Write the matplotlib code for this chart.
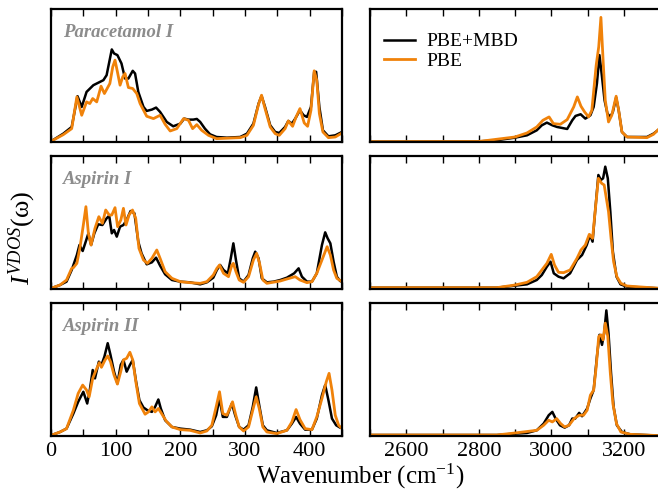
import matplotlib
matplotlib.use("Agg")
import matplotlib.pyplot as plt
from matplotlib.ticker import MultipleLocator, FixedLocator

plt.rcParams['font.family'] = ['Liberation Serif', 'DejaVu Serif']
plt.rcParams['mathtext.fontset'] = 'custom'
plt.rcParams['mathtext.rm'] = 'Liberation Serif'
plt.rcParams['mathtext.it'] = 'Liberation Serif:italic'

ORANGE = '#f0820a'
labels = ['Paracetamol I', 'Aspirin I', 'Aspirin II']
series_names = ['PBE+MBD', 'PBE']

# ---------- Paracetamol I, low-frequency ----------
para_lo_mbd_x = [0, 19, 32, 41, 47.5, 55, 65.5, 81, 86, 94, 97.5, 102.7, 109, 114.5, 119.7, 126.4, 130, 135, 143, 148, 156,
                 162.5, 168.7, 179, 189, 200, 206, 212.6, 220, 225.5, 230.7, 238, 246, 256, 272, 292.6, 303, 313, 321, 325.6,
                 331, 339, 346.7, 353, 362, 367, 372.5, 377.7, 385, 390.6, 395.8, 402, 407, 410, 415, 420.5, 429, 439.6, 450]
para_lo_mbd_y = [2, 25, 45, 137, 105, 150, 170, 185, 200, 277, 265, 260, 235, 190, 190, 213, 205, 150, 105, 93, 97,
                 103, 90, 60, 47, 55, 70, 67, 67, 69, 60, 40, 23, 15, 13, 15, 25, 55, 115, 138,
                 105, 50, 30, 27, 45, 63, 55, 70, 95, 80, 75, 105, 210, 210, 105, 35, 17, 20, 30]
para_lo_pbe_x = [0, 19, 32, 40, 47.5, 55, 60, 64.5, 70.7, 77.4, 82.6, 91, 95.5, 99, 102.7, 106.8, 111, 114.5, 119.7, 126.4,
                 132.6, 137.8, 148, 158.4, 168.7, 176.5, 184.3, 194.5, 205, 212.6, 219, 225.5, 233, 243.5, 256, 292.6, 303,
                 313, 321, 325.6, 331, 339, 346.7, 353, 362, 367, 373.6, 379, 385, 391.6, 396.8, 402, 407, 411, 415, 420.5,
                 429, 439.6, 450]
para_lo_pbe_y = [2, 22, 40, 135, 80, 120, 115, 130, 120, 167, 145, 175, 225, 245, 210, 170, 195, 205, 163, 160,
                 145, 115, 77, 70, 80, 53, 33, 40, 70, 65, 40, 52, 35, 20, 10, 13, 20,
                 50, 113, 140, 100, 45, 25, 20, 40, 63, 47, 75, 100, 57, 47, 95, 213, 185, 85, 30,
                 13, 15, 27]

# ---------- Paracetamol I, high-frequency ----------
para_hi_mbd_x = [2500, 2650, 2800, 2841, 2900, 2933, 2960, 2974, 2988, 3003, 3016, 3044, 3058, 3067, 3081, 3094, 3108,
                 3117, 3126, 3133, 3140, 3147, 3155, 3163, 3170, 3179, 3186, 3195, 3209, 3264, 3282, 3300]
para_hi_mbd_y = [1, 1.5, 2, 4, 13, 20, 35, 50, 58, 50, 45, 39, 65, 78, 83, 70, 80,
                 105, 175, 260, 195, 125, 85, 75, 90, 133, 95, 30, 15, 15, 25, 40]
para_hi_pbe_x = [2500, 2800, 2900, 2933, 2960, 2977, 2994, 3006, 3025, 3044, 3062, 3072, 3082, 3092, 3103, 3112, 3124,
                 3131, 3137, 3143, 3149, 3158, 3167, 3179, 3186, 3195, 3209, 3264, 3282, 3300]
para_hi_pbe_y = [1, 1.5, 15, 27, 45, 65, 75, 55, 53, 67, 105, 135, 107, 90, 75, 95, 230,
                 285, 373, 245, 125, 60, 80, 137, 95, 30, 15, 13, 23, 42]

# ---------- Aspirin I, low-frequency ----------
asp1_lo_mbd_x = [0, 14, 24, 32, 40, 44, 49, 53.7, 57.8, 62, 67, 73, 79.5, 86, 90, 94, 97.5, 101.7, 106.8, 112, 117, 123,
                 129, 135, 140, 148, 156, 162.5, 168.7, 176.5, 187, 200, 215, 230.7, 241, 251, 256.5, 261.6, 266.8, 273.5,
                 278, 282, 286, 291, 297.7, 305.5, 312, 315.8, 321, 326, 333.8, 344, 354.5, 364.8, 376, 382.9, 388, 395.8,
                 403.5, 411, 419, 424, 427.8, 432, 437, 442, 447, 450]
asp1_lo_mbd_y = [2, 12, 22, 57, 102, 132, 114, 142, 167, 132, 167, 194, 192, 212, 220, 167, 177, 157, 187, 192, 207, 234,
                 227, 142, 107, 74, 80, 94, 70, 44, 27, 22, 20, 14, 20, 34, 57, 72, 57, 47,
                 92, 137, 87, 32, 22, 42, 92, 112, 92, 32, 20, 22, 27, 34, 47, 62, 37, 22,
                 22, 47, 132, 170, 152, 137, 82, 37, 24, 22]
asp1_lo_pbe_x = [0, 14, 24, 32, 34.6, 40, 45, 50, 54, 57.8, 62, 68, 74, 79.5, 84.6, 90, 94, 99, 103, 108, 112, 116, 120.7,
                 126, 131, 136, 143, 149, 156, 163.6, 168.7, 176.5, 187, 200, 215, 230.7, 241, 251, 256.5, 260.6, 266.8,
                 274.5, 279.7, 282, 286, 291, 297.7, 305.5, 313, 318, 322.5, 327.6, 333.8, 354.5, 364.8, 377.7, 385, 395.8,
                 403.5, 411, 419, 427, 432, 437, 442, 450]
asp1_lo_pbe_y = [2, 12, 27, 62, 64, 77, 127, 192, 247, 167, 132, 182, 217, 197, 237, 222, 222, 244, 187, 207, 242, 192, 222,
                 237, 212, 122, 87, 77, 92, 117, 92, 52, 32, 22, 19, 17, 22, 42, 62, 72, 47,
                 37, 72, 77, 52, 27, 20, 37, 87, 107, 77, 27, 17, 24, 30, 37, 27, 19,
                 22, 47, 87, 127, 102, 57, 32, 22]

# ---------- Aspirin I, high-frequency ----------
asp1_hi_mbd_x = [2500, 2850, 2900, 2933, 2960, 2974, 2988, 2998, 3007, 3020, 3034, 3052, 3071, 3085, 3098, 3107, 3114,
                 3121, 3130, 3137, 3143, 3149, 3156, 3163, 3170, 3180, 3191, 3209, 3300]
asp1_hi_mbd_y = [4, 4, 10, 14, 27, 42, 67, 82, 47, 37, 32, 47, 87, 102, 132, 162, 142,
                 232, 342, 327, 332, 367, 332, 232, 112, 37, 14, 7, 2]
asp1_hi_pbe_x = [2500, 2850, 2900, 2933, 2960, 2974, 2988, 3000, 3009, 3020, 3034, 3052, 3071, 3082, 3094, 3105, 3114,
                 3121, 3130, 3139, 3146, 3152, 3158, 3165, 3172, 3181, 3192, 3209, 3300]
asp1_hi_pbe_y = [4, 4, 12, 20, 37, 57, 77, 104, 72, 50, 49, 57, 92, 117, 132, 164, 152,
                 232, 332, 317, 312, 272, 232, 152, 82, 37, 17, 9, 2]

# ---------- Aspirin II, low-frequency ----------
asp2_lo_mbd_x = [0, 14, 24, 34.6, 42, 50, 56, 60, 64.5, 68, 74, 78, 82.6, 87.7, 92, 97.5, 102.7, 107.8, 112, 117, 122,
                 126.4, 131.6, 136.7, 143, 149, 156, 161, 166, 169.8, 176.5, 187, 200, 215, 230.7, 241, 248.7, 255.4,
                 260.6, 265.7, 272, 279.7, 284.8, 291, 297.7, 305.5, 312, 317.3, 322, 327.6, 333.8, 349, 364.8, 372.5,
                 379, 385, 393, 403.5, 411, 419, 424, 429, 434.5, 441, 447, 450]
asp2_lo_mbd_y = [2, 12, 22, 67, 102, 132, 97, 137, 197, 172, 222, 212, 237, 277, 242, 192, 157, 212, 227, 192, 212,
                 227, 162, 107, 85, 77, 72, 87, 109, 82, 47, 27, 22, 19, 12, 17, 29, 62,
                 112, 57, 57, 97, 62, 27, 19, 32, 87, 145, 92, 32, 17, 9, 17, 37,
                 57, 37, 19, 19, 52, 122, 152, 107, 52, 32, 25, 24]
asp2_lo_pbe_x = [0, 14, 24, 34.6, 42, 49, 55, 59, 64.5, 69.7, 74.8, 78, 83.6, 87.7, 92, 97.5, 102.7, 107.8, 112, 117, 122,
                 126.4, 131.6, 136.7, 145.5, 150.7, 156, 161, 166, 171, 178, 187, 200, 215, 230.7, 241, 248.7, 255.4,
                 260.6, 265.7, 272, 280.7, 285.8, 291, 297.7, 305.5, 312, 317.3, 322, 327.6, 333.8, 349, 364.8, 372.5,
                 379, 385, 393, 403.5, 411, 419, 425.7, 430, 434.5, 439.6, 444.8, 450]
asp2_lo_pbe_y = [2, 12, 22, 77, 127, 152, 137, 117, 172, 197, 219, 205, 227, 239, 222, 182, 155, 192, 227, 232, 250,
                 227, 157, 97, 65, 72, 87, 72, 82, 67, 45, 27, 19, 17, 9, 15, 32, 87,
                 132, 67, 62, 102, 62, 27, 15, 27, 77, 117, 82, 27, 12, 7, 17, 42,
                 79, 49, 22, 19, 57, 112, 162, 187, 137, 62, 32, 22]

# ---------- Aspirin II, high-frequency ----------
asp2_hi_mbd_x = [2500, 2850, 2900, 2933, 2960, 2979, 2993, 3003, 3012, 3024, 3037, 3049, 3058, 3066, 3077, 3085, 3099,
                 3108, 3117, 3126, 3133, 3140, 3146, 3152, 3158, 3165, 3172, 3181, 3195, 3218, 3300]
asp2_hi_mbd_y = [3, 3, 7, 9, 17, 37, 62, 72, 52, 32, 25, 32, 52, 52, 69, 59, 82,
                 112, 137, 237, 302, 272, 307, 375, 307, 187, 87, 32, 12, 5, 1]
asp2_hi_pbe_x = [2500, 2850, 2900, 2960, 2979, 2993, 3003, 3015, 3026, 3037, 3049, 3063, 3077, 3089, 3099, 3108, 3117,
                 3124, 3131, 3137, 3143, 3149, 3156, 3163, 3170, 3180, 3192, 3218, 3300]
asp2_hi_pbe_y = [3, 3, 9, 17, 32, 47, 42, 52, 37, 27, 32, 52, 62, 62, 77, 122, 137,
                 207, 297, 302, 287, 337, 297, 187, 97, 37, 12, 5, 1]

low_data = [
    (para_lo_mbd_x, para_lo_mbd_y, para_lo_pbe_x, para_lo_pbe_y),
    (asp1_lo_mbd_x, asp1_lo_mbd_y, asp1_lo_pbe_x, asp1_lo_pbe_y),
    (asp2_lo_mbd_x, asp2_lo_mbd_y, asp2_lo_pbe_x, asp2_lo_pbe_y),
]
high_data = [
    (para_hi_mbd_x, para_hi_mbd_y, para_hi_pbe_x, para_hi_pbe_y),
    (asp1_hi_mbd_x, asp1_hi_mbd_y, asp1_hi_pbe_x, asp1_hi_pbe_y),
    (asp2_hi_mbd_x, asp2_hi_mbd_y, asp2_hi_pbe_x, asp2_hi_pbe_y),
]
ylims = [398, 399, 397]

W, H = 658, 491
fig = plt.figure(figsize=(W / 100, H / 100), dpi=100)

rows_px = [(9, 142), (156, 289), (303, 436)]
left_px = (51, 342)
right_px = (370, 660)


def add_ax(xp, yp):
    return fig.add_axes([xp[0] / W, 1 - yp[1] / H, (xp[1] - xp[0]) / W, (yp[1] - yp[0]) / H])


def style(ax):
    ax.tick_params(which='both', direction='in', top=True, bottom=True, left=False, right=False,
                   labelleft=False, length=5, width=1.0, labelsize=16, pad=4)
    for s in ax.spines.values():
        s.set_linewidth(1.6)
    ax.set_yticks([])


for i in range(3):
    axl = add_ax(left_px, rows_px[i])
    mx, my, px, py = low_data[i]
    axl.plot(mx, my, color='black', lw=1.8, label=series_names[0])
    axl.plot(px, py, color=ORANGE, lw=2.0, label=series_names[1])
    axl.set_xlim(0, 450)
    axl.set_ylim(0, ylims[i])
    axl.xaxis.set_major_locator(MultipleLocator(100))
    axl.xaxis.set_minor_locator(MultipleLocator(50))
    style(axl)
    axl.text(0.04, 0.82, labels[i], transform=axl.transAxes, color='#8c8c8c', fontsize=13.5,
             fontweight='bold', fontstyle='italic', va='center', ha='left')
    if i < 2:
        axl.tick_params(labelbottom=False)

    axr = add_ax(right_px, rows_px[i])
    mx, my, px, py = high_data[i]
    axr.plot(mx, my, color='black', lw=1.8, label=series_names[0])
    axr.plot(px, py, color=ORANGE, lw=2.0, label=series_names[1])
    axr.set_xlim(2500, 3300)
    axr.set_ylim(0, ylims[i])
    axr.xaxis.set_major_locator(FixedLocator([2600, 2800, 3000, 3200]))
    axr.xaxis.set_minor_locator(FixedLocator([2500, 2700, 2900, 3100, 3300]))
    style(axr)
    if i < 2:
        axr.tick_params(labelbottom=False)
    if i == 0:
        axr.legend(loc='upper left', bbox_to_anchor=(0.02, 0.88), frameon=False, fontsize=14,
                   handlelength=1.6, handletextpad=0.6, labelspacing=0.1, borderaxespad=0)

fig.text(22 / W, 1 - 238 / H, r'$I^{VDOS}$' + '(ω)', rotation=90, fontsize=19, ha='center', va='center')
fig.text(360 / W, 1 - 476 / H, r'Wavenumber (cm$^{\mathregular{-1}}$)', fontsize=18, ha='center', va='center')

fig.savefig('out.png', dpi=100)
